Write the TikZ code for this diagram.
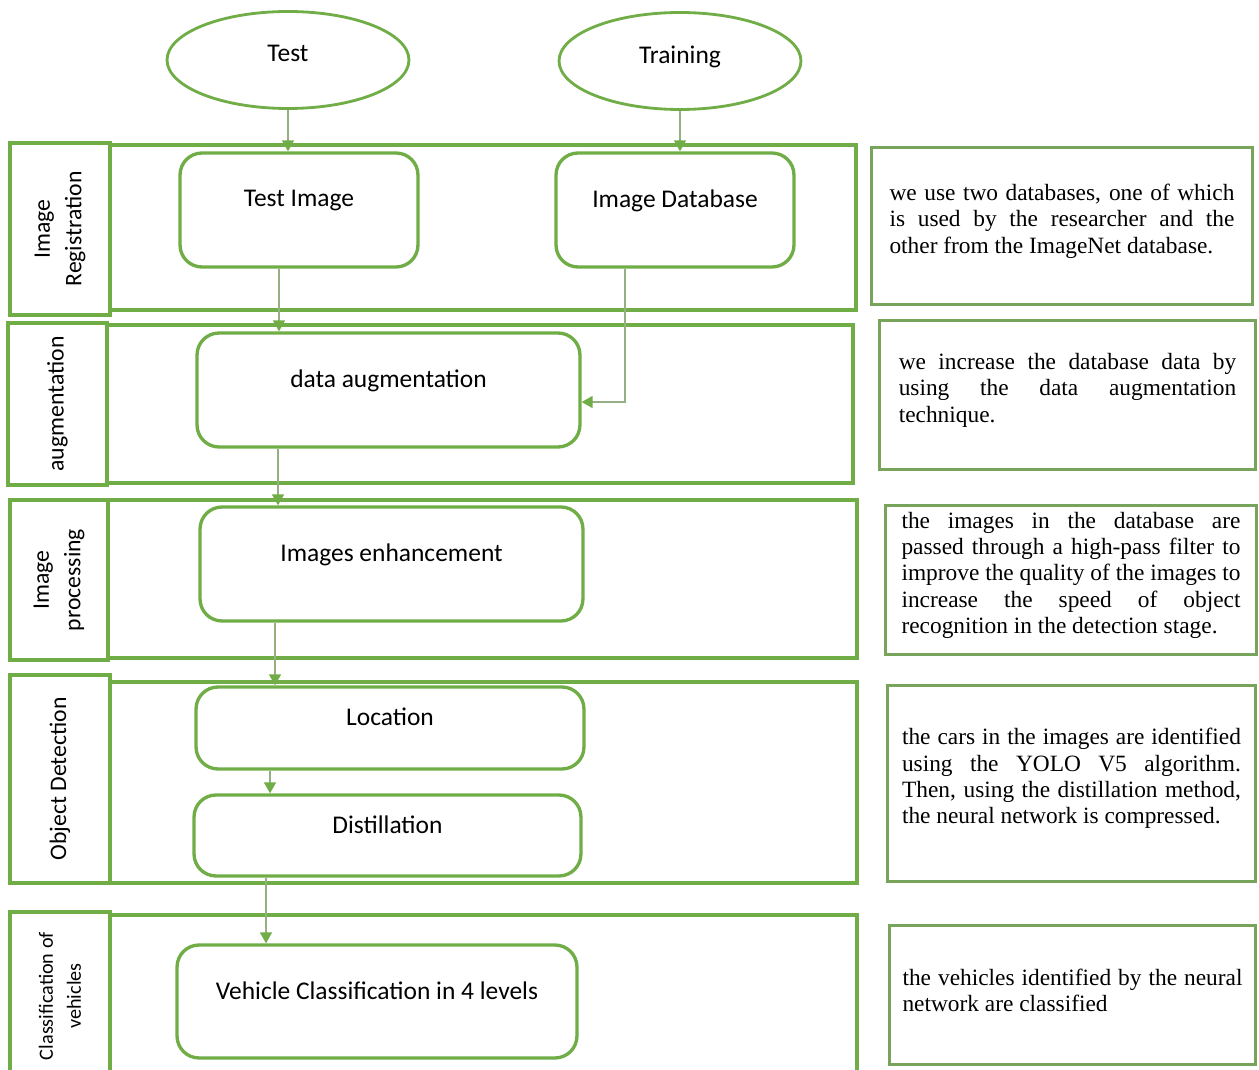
\documentclass[tikz,border=0pt]{standalone}
\usepackage{fontspec}
\setmainfont{Liberation Serif}
\newfontfamily\boxfont{Carlito}
\usepackage{tikz}
\usetikzlibrary{arrows.meta,shapes.geometric}
\definecolor{accent}{HTML}{70AD47}
\definecolor{notec}{HTML}{78A35A}
\definecolor{flow}{HTML}{94B083}
\hyphenpenalty=10000
\exhyphenpenalty=10000
\newcommand\noteend{\endgraf\vspace*{5.5pt}}

\begin{document}
\begin{tikzpicture}[
  x=0.02cm,y=-0.02cm,
  font=\boxfont\fontsize{14.5}{17}\selectfont,
  start/.style={ellipse,draw=accent,line width=1.6pt,minimum width=4.84cm,minimum height=1.94cm,inner sep=0pt,fill=white,text depth=0.25cm},
  stepbox/.style={draw=accent,line width=1.9pt,rounded corners=0.44cm,fill=white,text depth=0.45cm,inner sep=0pt},
  lane/.style={draw=accent,line width=1.9pt,inner sep=0pt},
  tag/.style={lane,rotate=90,align=center,font=\boxfont\fontsize{13.5}{18}\selectfont},
  note/.style={draw=notec,line width=1.7pt,inner sep=0pt,align=justify,font=\rmfamily\fontsize{13.3}{15}\selectfont,
    execute at end node=\noteend},
  arr/.style={draw=flow,line width=0.8pt,-{Triangle[length=2.2mm,width=2.4mm,fill=accent,color=accent]}}
]
\clip (0,0) rectangle (1259,1070);

% lanes
\node[lane,minimum width=14.92cm,minimum height=3.3cm]  (lane1) at (483,227.5) {};
\node[lane,minimum width=14.92cm,minimum height=3.16cm] (lane2) at (480,404)   {};
\node[lane,minimum width=14.98cm,minimum height=3.16cm] (lane3) at (482.5,579) {};
\node[lane,minimum width=14.94cm,minimum height=4.02cm] (lane4) at (483.5,782.5) {};
\node[lane,minimum width=14.94cm,minimum height=3.3cm]  (lane5) at (483.5,997.5) {};

% stage tags
\node[tag,minimum width=3.44cm,minimum height=2cm]    (tag1) at (60,229)   {Image\\Registration};
\node[tag,minimum width=3.24cm,minimum height=1.98cm] (tag2) at (57.5,404)  {augmentation};
\node[tag,minimum width=3.2cm,minimum height=1.96cm]  (tag3) at (59,580)   {Image\\processing};
\node[tag,minimum width=4.16cm,minimum height=2cm]    (tag4) at (60,779)   {Object Detection};
\node[tag,minimum width=3.36cm,minimum height=2cm,font=\boxfont\fontsize{11.5}{16}\selectfont]
  (tag5) at (60,996) {Classification of\\vehicles};

% inputs
\node[start] (test)  at (288,60) {Test};
\node[start] (train) at (680,61) {Training};

% steps
\node[stepbox,minimum width=4.76cm,minimum height=2.28cm] (timg) at (299,210)   {Test Image};
\node[stepbox,minimum width=4.76cm,minimum height=2.28cm] (idb)  at (675,210)   {Image Database};
\node[stepbox,minimum width=7.66cm,minimum height=2.28cm] (daug) at (388.5,390) {data augmentation};
\node[stepbox,minimum width=7.66cm,minimum height=2.28cm] (enh)  at (391.5,564) {Images enhancement};
\node[stepbox,minimum width=7.76cm,minimum height=1.64cm] (loc)  at (390,728)   {Location};
\node[stepbox,minimum width=7.74cm,minimum height=1.62cm] (dist) at (387.5,835.5) {Distillation};
\node[stepbox,minimum width=8cm,minimum height=2.26cm]    (veh)  at (377,1001.5) {Vehicle Classification in 4 levels};

% notes
\node[note,minimum width=7.64cm,minimum height=3.16cm,text width=6.9cm] (n1) at (1062,226)
  {we use two databases, one of which\linebreak is used by the researcher and the\linebreak other from the ImageNet database.};
\node[note,minimum width=7.54cm,minimum height=3cm,text width=6.75cm] (n2) at (1067.5,395)
  {we increase the database data by\linebreak using the data augmentation\linebreak technique.};
\node[note,minimum width=7.44cm,minimum height=3cm,text width=6.78cm] (n3) at (1071,580)
  {the images in the database are\linebreak passed through a high-pass filter to\linebreak improve the quality of the images to\linebreak increase the speed of object\linebreak recognition in the detection stage.};
\node[note,minimum width=7.38cm,minimum height=3.94cm,text width=6.78cm] (n4) at (1071.5,783.5)
  {the cars in the images are identified\linebreak using the YOLO V5 algorithm.\linebreak Then, using the distillation method,\linebreak the neural network is compressed.};
\node[note,minimum width=7.34cm,minimum height=2.8cm,text width=6.8cm] (n5) at (1072.5,995)
  {the vehicles identified by the neural\linebreak network are classified};

% flow
\draw[arr] (test.south) -- (test.south |- timg.north);
\draw[arr] (train.south) -- (train.south |- idb.north);
\draw[arr] ([xshift=-0.4cm]timg.south) -- ([xshift=-0.4cm]timg.south |- daug.north);
\draw[arr] ([xshift=-1cm]idb.south) |- ([yshift=-0.24cm]daug.east);
\draw[arr] ([xshift=-2.21cm]daug.south) -- ([xshift=-2.21cm]daug.south |- enh.north);
\draw[arr] ([xshift=-2.33cm]enh.south) -- ([xshift=-2.33cm]enh.south |- loc.north);
\draw[arr] ([xshift=-2.4cm]loc.south) -- ([xshift=-2.4cm]loc.south |- dist.north);
\draw[arr] ([xshift=-2.43cm]dist.south) -- ([xshift=-2.43cm]dist.south |- veh.north);
\end{tikzpicture}
\end{document}
